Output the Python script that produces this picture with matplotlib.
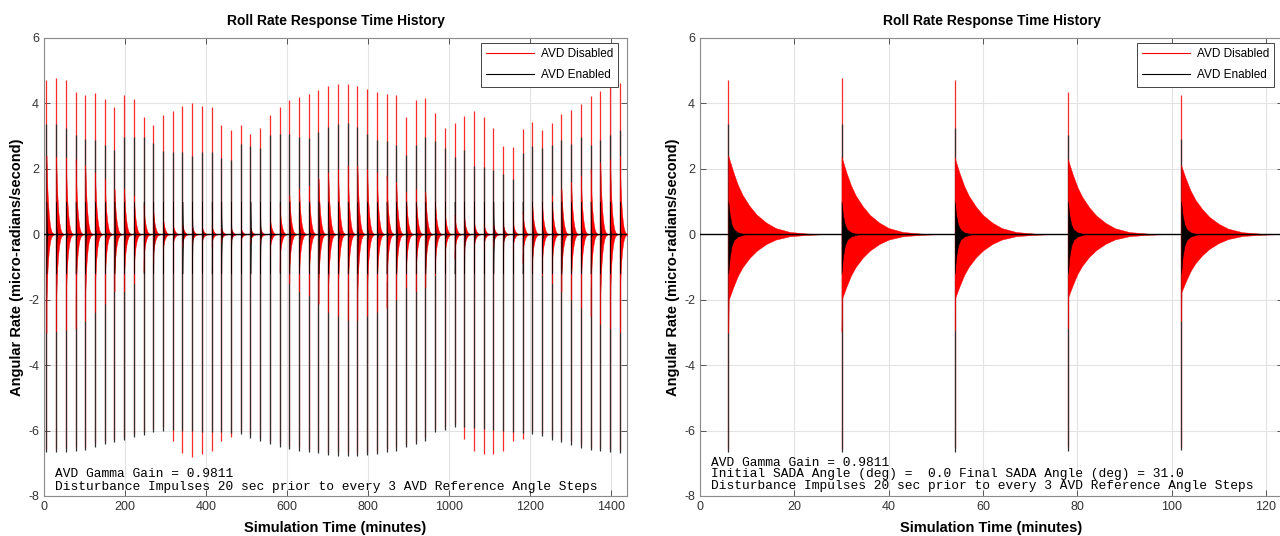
import numpy as np
import matplotlib.pyplot as plt

# disturbance impulse every 24 minutes, first one at t = 6 min
spike_t = list(range(6, 1440, 24))

# per-impulse peaks (micro-rad/s)
red_max = [4.71, 4.79, 4.73, 4.34, 4.25, 4.33, 4.14, 3.88, 4.25, 4.15,
           3.59, 3.33, 3.66, 3.77, 3.91, 4.01, 3.91, 3.89, 3.35, 3.18,
           3.33, 3.08, 3.25, 3.66, 3.89, 4.11, 4.21, 4.29, 4.42, 4.54,
           4.59, 4.59, 4.54, 4.44, 4.34, 4.29, 4.26, 3.60, 4.11, 4.16,
           3.71, 3.26, 3.40, 3.62, 3.76, 3.59, 3.26, 2.71, 2.67, 3.23,
           3.43, 3.20, 3.40, 3.69, 3.81, 3.97, 4.22, 4.39, 4.53, 4.61]
blk_max = [3.38, 3.38, 3.26, 3.03, 2.90, 2.88, 2.73, 2.57, 2.98, 2.98,
           2.98, 2.80, 2.55, 2.53, 2.53, 2.40, 2.53, 2.53, 2.34, 2.27,
           2.77, 2.69, 2.65, 3.03, 3.06, 3.06, 2.98, 2.93, 3.14, 3.29,
           3.37, 3.41, 3.29, 3.06, 2.88, 2.86, 2.73, 2.42, 2.73, 2.98,
           2.86, 2.65, 2.35, 2.57, 2.08, 2.06, 1.96, 1.83, 1.70, 2.47,
           2.69, 2.65, 2.73, 2.88, 2.77, 2.98, 2.73, 2.88, 3.03, 3.20]
blk_min = [-6.66, -6.66, -6.64, -6.61, -6.59, -6.49, -6.41, -6.36, -6.29, -6.21,
           -6.13, -6.05, -6.00, -5.98, -6.00, -6.02, -6.03, -6.03, -6.05, -6.08,
           -6.12, -6.22, -6.32, -6.41, -6.49, -6.56, -6.61, -6.66, -6.70, -6.74,
           -6.77, -6.78, -6.78, -6.76, -6.72, -6.66, -6.61, -6.51, -6.41, -6.31,
           -6.05, -5.98, -5.89, -5.90, -5.92, -5.95, -5.97, -6.00, -6.05, -6.08,
           -6.12, -6.18, -6.28, -6.36, -6.43, -6.53, -6.59, -6.63, -6.66, -6.70]
red_min = [-6.56, -6.56, -6.54, -6.51, -6.49, -6.39, -6.31, -6.26, -6.19, -6.11,
           -6.03, -5.95, -5.90, -6.31, -6.70, -6.80, -6.72, -6.62, -6.31, -6.21,
           -6.02, -6.12, -6.22, -6.31, -6.39, -6.46, -6.51, -6.56, -6.60, -6.64,
           -6.67, -6.68, -6.68, -6.66, -6.62, -6.56, -6.51, -6.41, -6.31, -6.21,
           -5.95, -5.88, -5.79, -6.25, -6.61, -6.73, -6.73, -6.61, -6.32, -6.25,
           -6.02, -6.08, -6.18, -6.26, -6.33, -6.43, -6.49, -6.53, -6.56, -6.60]
# start amplitude of the AVD-disabled ringing after each impulse
red_env = [2.41, 2.38, 2.35, 2.30, 2.12, 1.90, 1.70, 1.40, 1.40, 1.20,
           0.90, 0.70, 0.50, 0.35, 0.30, 0.25, 0.25, 0.30, 0.20, 0.20,
           0.20, 0.20, 0.20, 0.50, 0.90, 1.20, 1.40, 1.50, 1.70, 1.90,
           2.00, 2.10, 2.10, 2.00, 1.90, 1.80, 1.60, 1.30, 1.40, 1.30,
           1.00, 0.70, 0.60, 0.50, 0.40, 0.35, 0.30, 0.30, 0.40, 0.70,
           0.90, 1.00, 1.20, 1.40, 1.60, 1.80, 2.00, 2.20, 2.30, 2.40]

# envelope shape (minutes after impulse, fraction of start)
env_dt = [0, 0.08, 1, 2, 3, 4.5, 6, 8, 10, 13, 17, 20]
env_up = [1.0, 0.98, 0.80, 0.63, 0.50, 0.36, 0.25, 0.15, 0.08, 0.03, 0.008, 0]
env_dn = [1.25, 0.83, 0.68, 0.53, 0.42, 0.30, 0.21, 0.125, 0.068, 0.025, 0.007, 0]
# AVD-enabled ringing dies out much faster
blk_dt = [0, 0.3, 0.7, 1.2, 2.0, 3.5]
blk_up = [1.0, 0.6, 0.3, 0.15, 0.06, 0]
blk_dn = [1.2, 0.7, 0.35, 0.17, 0.07, 0]

txt_left = ["AVD Gamma Gain = 0.9811",
            "Disturbance Impulses 20 sec prior to every 3 AVD Reference Angle Steps"]
txt_right = ["AVD Gamma Gain = 0.9811",
             "Initial SADA Angle (deg) =  0.0 Final SADA Angle (deg) = 31.0",
             "Disturbance Impulses 20 sec prior to every 3 AVD Reference Angle Steps"]

plt.rcParams['font.family'] = ['Liberation Sans', 'DejaVu Sans']
plt.rcParams['axes.unicode_minus'] = False

fig = plt.figure(figsize=(12.8, 5.36), dpi=100)
axL = fig.add_axes([44 / 1280, 1 - 496 / 536, 583 / 1280, 458 / 536])
axR = fig.add_axes([700 / 1280, 1 - 496 / 536, 583 / 1280, 458 / 536])


def draw(ax, xmax, xticks, lines):
    t = np.array(spike_t, dtype=float)
    ax.vlines(t, red_min, red_max, color='#ff2a2a', lw=0.9, zorder=2)
    ax.vlines(t, blk_min, blk_max, color='#303030', lw=0.9, zorder=3)
    for i, t0 in enumerate(spike_t):
        tt = t0 + np.array(env_dt)
        ax.fill_between(tt, -red_env[i] * np.array(env_dn), red_env[i] * np.array(env_up),
                        color='red', lw=0.3, zorder=4)
        tb = t0 + np.array(blk_dt)
        ax.fill_between(tb, -np.array(blk_dn), np.array(blk_up),
                        color='black', lw=0.3, zorder=5)
    ax.axhline(0, color='black', lw=1.0, zorder=6)
    ax.plot([], [], color='red', lw=0.8, label='AVD Disabled')
    ax.plot([], [], color='black', lw=0.8, label='AVD Enabled')

    ax.set_xlim(0, xmax)
    ax.set_ylim(-8, 6)
    ax.set_xticks(xticks)
    ax.set_yticks(range(-8, 7, 2))
    ax.grid(True, color='#e3e3e3', lw=0.8)
    ax.set_axisbelow(True)
    ax.tick_params(direction='in', top=True, right=True, length=4, width=0.6,
                   colors='#404040', labelsize=9, labelcolor='#333333')
    for s in ax.spines.values():
        s.set_color('#8a8a8a')
        s.set_linewidth(0.8)
    ax.set_title('Roll Rate Response Time History', fontsize=10, fontweight='bold', pad=9.5)
    ax.set_xlabel('Simulation Time (minutes)', fontsize=10.5, fontweight='bold', labelpad=6)
    ax.set_ylabel('Angular Rate (micro-radians/second)', fontsize=10.5, fontweight='bold',
                  labelpad=3)
    leg = ax.legend(loc='upper right', bbox_to_anchor=(0.985, 0.989), borderaxespad=0,
                    fontsize=8.5, handlelength=4.0, handletextpad=0.6, labelspacing=0.75,
                    borderpad=0.45, fancybox=False, framealpha=1, edgecolor='#444444')
    leg.get_frame().set_linewidth(0.7)
    leg.set_zorder(10)

    ys = [0.048, 0.0197] if len(lines) == 2 else [0.072, 0.047, 0.022]
    for s, y in zip(lines, ys):
        ax.text(0.019, y, s, transform=ax.transAxes, fontsize=9.3, va='center', ha='left',
                family=['Liberation Mono', 'DejaVu Sans Mono'], zorder=9)


draw(axL, 1440, range(0, 1401, 200), txt_left)
draw(axR, 123.6, range(0, 121, 20), txt_right)

fig.savefig('out.png', dpi=100)
